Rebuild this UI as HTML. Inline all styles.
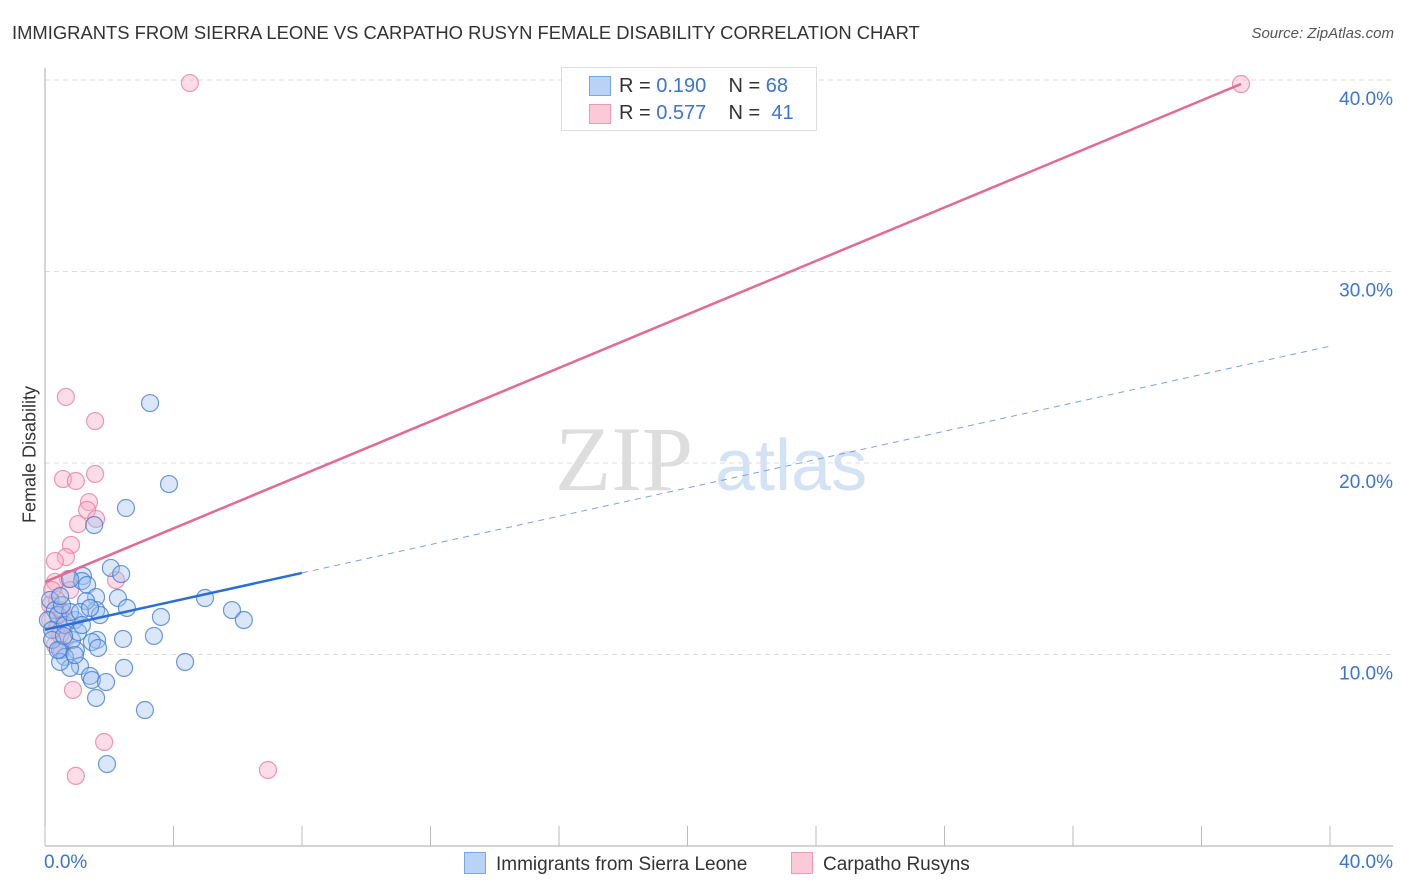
<!DOCTYPE html>
<html><head><meta charset="utf-8">
<style>
body{margin:0;background:#fff;font-family:"Liberation Sans",sans-serif;}
#wrap{position:relative;width:1406px;height:892px;overflow:hidden;}
.t{position:absolute;white-space:nowrap;}
</style></head><body>
<div id="wrap">
<div class="t" style="left:12px;top:22px;font-size:18.4px;color:#333;">IMMIGRANTS FROM SIERRA LEONE VS CARPATHO RUSYN FEMALE DISABILITY CORRELATION CHART</div>
<div class="t" style="right:12px;top:25px;font-size:15px;color:#555;font-style:italic;">Source: ZipAtlas.com</div>
<svg id="chart" width="1406" height="892" style="position:absolute;left:0;top:0"></svg>
</div>
<script>
const blueX=[3.27,3.86,2.52,1.53,2.05,2.37,1.18,1.15,0.78,1.31,2.27,1.59,2.55,1.59,1.28,4.98,5.82,6.19,3.61,3.39,2.43,1.62,1.46,1.65,0.96,0.47,0.62,1.09,0.78,0.47,4.36,2.46,1.40,1.46,1.90,1.59,3.11,1.93,0.16,0.31,0.09,0.22,0.40,0.62,0.93,0.78,0.53,1.09,0.22,0.40,0.84,1.71,1.03,0.59,1.15,1.40,0.47,0.93];
const blueY=[23.13,18.90,17.65,16.76,14.52,14.20,14.10,13.84,13.94,13.63,12.95,13.00,12.43,12.32,12.79,12.95,12.32,11.80,11.96,10.97,10.81,10.76,10.65,10.34,10.23,10.23,9.87,9.40,9.30,9.61,9.61,9.30,8.88,8.67,8.56,7.73,7.10,4.28,12.85,12.32,11.80,11.28,12.06,11.54,11.80,12.22,12.58,12.22,10.76,10.23,10.76,12.06,11.17,10.97,11.54,12.43,13.05,9.97];
const pinkX=[4.51,37.23,0.65,1.56,0.56,0.96,1.56,1.37,1.31,1.59,1.03,0.81,0.65,0.31,0.72,2.21,0.31,0.37,0.78,0.47,0.16,0.34,0.62,0.31,0.53,0.40,0.16,0.87,1.84,0.96,6.94,0.53,0.22,0.47,0.68];
const pinkY=[39.84,39.79,23.45,22.19,19.16,19.06,19.43,17.96,17.55,17.08,16.81,15.72,15.09,14.88,13.94,13.89,13.79,12.85,13.37,12.32,11.80,11.28,10.76,10.50,12.22,11.54,12.58,8.15,5.43,3.66,3.97,10.23,13.37,11.02,11.70];
const yTicks=[10,20,30,40];
const yTickLabels=["10.0%","20.0%","30.0%","40.0%"];
const blueFit=[11.3,0.37]; // intercept, slope
const pinkFit=[13.79,0.6984];

const X=v=>45+v*32.125, Y=v=>846-v*19.15;
const svg=document.getElementById('chart');
const NS='http://www.w3.org/2000/svg';
function mk(tag,attrs,parent){const e=document.createElementNS(NS,tag);for(const k in attrs)e.setAttribute(k,attrs[k]);(parent||svg).appendChild(e);return e;}

yTicks.forEach((t,i)=>{
  const g=mk('line',{x1:45,x2:1393,y1:Y(t),y2:Y(t),stroke:'#ddd','stroke-dasharray':'5,4'});
  
  
  const l=mk('text',{x:1393,y:Y(t)+25,'text-anchor':'end','font-size':19,fill:'#3b74d1','font-family':'Liberation Sans, sans-serif'});
  l.textContent=yTickLabels[i];
  
  
});
const ax=mk('line',{x1:45,x2:1393,y1:846,y2:846,stroke:'#aaa'});


const ay=mk('line',{x1:45,x2:45,y1:68,y2:846,stroke:'#aaa'});


for(let i=0;i<=10;i++){
  const tk=mk('line',{x1:X(i*4),x2:X(i*4),y1:826,y2:846,stroke:'#bbb'});
  
  
}
const wm=mk('text',{x:555,y:490,'font-size':92,fill:'#ddd','font-family':'Liberation Serif, serif'});
wm.textContent='ZIP';


const wm2=mk('text',{x:715,y:490,'font-size':72,fill:'#d3e2f5','font-family':'Liberation Sans, sans-serif'});
wm2.textContent='atlas';



function pts(xs,ys,fill,stroke,name){
  xs.forEach((x,i)=>{
    const c=mk('circle',{cx:X(x),cy:Y(ys[i]),r:8.5,fill:fill,stroke:stroke,'stroke-width':1.2});
    
    
  });
}
pts(pinkX,pinkY,'rgba(248,170,195,0.4)','rgba(232,120,155,0.75)','carpatho-point');
pts(blueX,blueY,'rgba(160,195,240,0.4)','rgba(60,120,210,0.75)','sierra-leone-point');

const bl=mk('line',{x1:X(0),y1:Y(blueFit[0]),x2:X(8),y2:Y(blueFit[0]+blueFit[1]*8),stroke:'#2a6fd6','stroke-width':2.5});


const bd=mk('line',{x1:X(8),y1:Y(blueFit[0]+blueFit[1]*8),x2:X(40),y2:Y(blueFit[0]+blueFit[1]*40),stroke:'#7aa3df','stroke-width':1,'stroke-dasharray':'6,5'});


const pl=mk('line',{x1:X(0),y1:Y(pinkFit[0]),x2:X(37.23),y2:Y(pinkFit[0]+pinkFit[1]*37.23),stroke:'#e36a93','stroke-width':2.5});


</script>
<div class="t" style="left:-40px;top:444px;width:140px;text-align:center;transform:rotate(-90deg);font-size:18px;color:#333;">Female Disability</div>
<div class="t" style="left:44px;top:852px;font-size:19px;color:#3b74d1;">0.0%</div>
<div class="t" style="right:13px;top:852px;font-size:19px;color:#3b74d1;">40.0%</div>
<div style="position:absolute;left:561px;top:67px;width:254px;height:62px;border:1px solid #ddd;background:#fff;font-size:20px;">
  <div style="position:absolute;left:27px;top:8px;width:20px;height:18px;background:#b9d3f6;border:1px solid #7aa6e6;"></div>
  <div class="t" style="left:57px;top:7px;color:#333;">R = <span style="color:#3b74d1">0.190</span>&nbsp;&nbsp;&nbsp; N = <span style="color:#3b74d1">68</span></div>
  <div style="position:absolute;left:27px;top:36px;width:20px;height:18px;background:#fbc9d8;border:1px solid #ee9ab5;"></div>
  <div class="t" style="left:57px;top:34px;color:#333;">R = <span style="color:#3b74d1">0.577</span>&nbsp;&nbsp;&nbsp; N = &nbsp;<span style="color:#3b74d1">41</span></div>
</div>
<div style="position:absolute;left:464px;top:852px;font-size:19px;color:#333;">
  <div style="position:absolute;left:0;top:0;white-space:nowrap;"><span style="display:inline-block;width:20px;height:20px;background:#b9d3f6;border:1px solid #7aa6e6;vertical-align:-4px;margin-right:10px;"></span>Immigrants from Sierra Leone</div>
  <div style="position:absolute;left:327px;top:0;white-space:nowrap;"><span style="display:inline-block;width:20px;height:20px;background:#fbc9d8;border:1px solid #ee9ab5;vertical-align:-4px;margin-right:10px;"></span>Carpatho Rusyns</div>
</div>
</body></html>
